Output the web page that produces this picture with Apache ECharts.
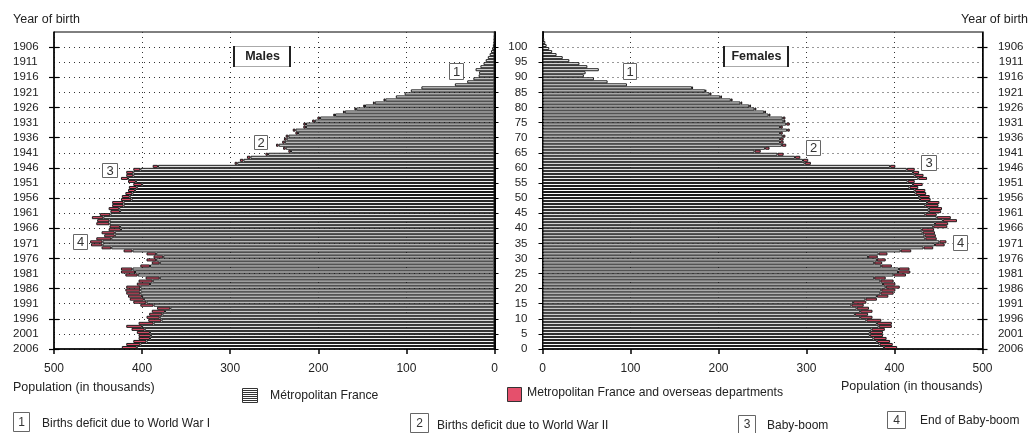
<!DOCTYPE html>
<html><head><meta charset="utf-8">
<script src="https://cdn.jsdelivr.net/npm/echarts@6/dist/echarts.min.js"></script>
<style>html,body{margin:0;padding:0;background:#fff}#c{width:1029px;height:433px}</style>
</head><body><div id="c"></div><script>
// ---- data (thousands), index = age 0..104 ----
const maleMetro = [406,402,395,391,390,391,397,400,387,378,380,377,374,368,387,395,398,400,402,402,
402,391,388,380,405,408,411,391,380,384,376,384,411,435,445,445,435,431,431,424,
425,437,437,444,436,425,426,421,421,412,414,411,408,406,400,407,416,410,410,402,
382,292,285,277,257,231,237,245,238,236,234,223,226,214,214,204,198,181,170,157,
147,136,124,112,102,95,83,45,31,24,18,17.5,21.5,16,12.5,10,7.6,5.5,4,2.7,
1.8,1.2,0.8,0.5,0.3];
const maleTotal = [423,418,410,404,404,406,412,418,404,393,395,392,389,383,402,410,414,416,418,419,
418,406,404,396,419,424,424,402,389,395,387,395,421,446,458,459,452,443,446,438,
437,452,451,457,448,436,438,434,434,424,423,419,416,415,410,416,424,418,418,410,
388,295,289,281,260,234,240,248,241,239,237,226,229,217,217,207,201,183,172,159,
149,138,126,112,102,95,83,45,31,24,18,17.5,21.5,16,12.5,10,7.6,5.5,4,2.7,
1.8,1.2,0.8,0.5,0.3];
const femaleMetro = [388,383,380,376,372,372,374,382,380,368,361,355,361,357,351,353,367,380,384,385,
390,387,384,377,399,404,405,385,377,380,370,382,407,433,446,451,435,434,432,431,
444,446,455,448,435,439,439,435,437,429,428,424,423,417,421,415,427,423,421,414,
395,298,296,287,267,241,253,272,270,270,273,270,278,270,277,274,273,257,252,241,
235,225,214,202,190,185,170,96,74,58.5,47,49,64,51,42,30.5,23,16,11,7.7,
4.7,3.2,2.0,0.9,0.4];
const femaleTotal = [403,398,395,391,387,387,389,397,397,385,375,370,375,371,365,368,380,393,399,401,
406,401,399,390,413,418,417,397,386,390,381,392,419,444,457,459,448,447,446,445,
460,461,471,464,448,453,454,450,451,441,440,436,435,427,432,423,437,433,428,423,
401,305,302,293,274,248,258,277,274,274,276,273,281,273,281,276,276,259,254,243,
237,227,216,204,192,186,171,96,74,58.5,47,49,64,51,42,30.5,23,16,11,7.7,
4.7,3.2,2.0,0.9,0.4];
const ageLabels = [0,5,10,15,20,25,30,35,40,45,50,55,60,65,70,75,80,85,90,95,100];
const yearLabels = ['2006','2001','1996','1991','1986','1981','1976','1971','1966','1961','1956',
  '1951','1946','1941','1936','1931','1926','1921','1916','1911','1906'];
const yearTicks = [0,10,20,30,40,50,60,70,80,90,100];
const popTicks = [0,100,200,300,400,500];

// ---- build ----
const ages = []; for (let i = 0; i < maleMetro.length; i++) ages.push(String(i));
const diff = (t, m) => t.map((v, i) => (v - m[i] > 0.05 ? +(v - m[i]).toFixed(2) : null));
const FONT = '"Liberation Sans", Arial, Helvetica, sans-serif';
const RED = '#e5506c';
const dotted = { show: true, lineStyle: { color: '#333', width: 1, type: [1, 4] } };
const yMax = 105;

function valY(grid, pos, extra) {
  return Object.assign({
    type: 'value', gridIndex: grid, position: pos, min: 0, max: yMax, interval: 5,
    axisLine: { show: true, onZero: false, lineStyle: { color: '#000', width: 1.5 } },
    axisTick: { show: false }, axisLabel: { show: false }, splitLine: { show: false }
  }, extra);
}
const labelStyle = { fontFamily: FONT, fontSize: 11.5, color: '#222' };
const barBorder = { borderColor: '#1a1a1a', borderWidth: 1 };

const option = {
  animation: false,
  backgroundColor: '#fff',
  grid: [
    { left: 54, right: 534.5, top: 32, bottom: 84, show: true, borderColor: '#000', borderWidth: 1, containLabel: false },
    { left: 542.5, right: 46.5, top: 32, bottom: 84, show: true, borderColor: '#000', borderWidth: 1, containLabel: false }
  ],
  xAxis: [0, 1].map(g => ({
    type: 'value', gridIndex: g, inverse: g === 0, min: 0, max: 500, interval: 100,
    axisLine: { show: true, onZero: false, lineStyle: { color: '#000', width: 1.5 } },
    axisTick: { show: true, length: 5, lineStyle: { color: '#000', width: 1.5 }, customValues: popTicks },
    axisLabel: { fontFamily: FONT, fontSize: 12, color: '#222', margin: 14, customValues: popTicks },
    splitLine: dotted
  })),
  yAxis: [
    // left panel
    { type: 'category', gridIndex: 0, data: ages, show: false, boundaryGap: true },
    valY(0, 'right', {
      axisLine: { show: true, onZero: false, lineStyle: { color: '#000', width: 2 } },
      axisTick: { show: true, length: 4, lineStyle: { color: '#000' }, customValues: ageLabels },
      axisLabel: Object.assign({ show: true, align: 'right', margin: 33, customValues: ageLabels }, labelStyle),
      splitLine: dotted
    }),
    valY(0, 'left', {
      axisTick: { show: true, length: 5, lineStyle: { color: '#000', width: 1.2 }, customValues: yearTicks },
      axisLabel: Object.assign({ show: true, align: 'left', margin: 41, customValues: ageLabels,
        formatter: v => yearLabels[ageLabels.indexOf(v)] }, labelStyle)
    }),
    valY(0, 'left', {
      axisLine: { show: false },
      axisTick: { show: true, inside: true, length: 5, lineStyle: { color: '#000', width: 1.2 }, customValues: yearTicks }
    }),
    // right panel
    { type: 'category', gridIndex: 1, data: ages, show: false, boundaryGap: true },
    valY(1, 'left', {
      axisLine: { show: true, onZero: false, lineStyle: { color: '#000', width: 2 } },
      axisTick: { show: true, length: 4, lineStyle: { color: '#000' }, customValues: ageLabels },
      splitLine: dotted
    }),
    valY(1, 'right', {
      axisTick: { show: true, length: 5, lineStyle: { color: '#000', width: 1.2 }, customValues: yearTicks },
      axisLabel: Object.assign({ show: true, align: 'right', margin: 41, customValues: ageLabels,
        formatter: v => yearLabels[ageLabels.indexOf(v)] }, labelStyle)
    }),
    valY(1, 'right', {
      axisLine: { show: false },
      axisTick: { show: true, inside: true, length: 5, lineStyle: { color: '#000', width: 1.2 }, customValues: yearTicks }
    })
  ],
  series: [
    { name: 'Métropolitan France', type: 'bar', xAxisIndex: 0, yAxisIndex: 0, stack: 'm', data: maleMetro,
      barCategoryGap: '0%', itemStyle: Object.assign({ color: '#fff' }, barBorder) },
    { name: 'Metropolitan France and overseas departments', type: 'bar', xAxisIndex: 0, yAxisIndex: 0, stack: 'm',
      data: diff(maleTotal, maleMetro), barCategoryGap: '0%', itemStyle: Object.assign({ color: RED }, barBorder) },
    { name: 'Métropolitan France', type: 'bar', xAxisIndex: 1, yAxisIndex: 4, stack: 'f', data: femaleMetro,
      barCategoryGap: '0%', itemStyle: Object.assign({ color: '#fff' }, barBorder) },
    { name: 'Metropolitan France and overseas departments', type: 'bar', xAxisIndex: 1, yAxisIndex: 4, stack: 'f',
      data: diff(femaleTotal, femaleMetro), barCategoryGap: '0%', itemStyle: Object.assign({ color: RED }, barBorder) }
  ],
  graphic: []
};

// ---- annotations / texts ----
const G = option.graphic;
function txt(x, y, s, opt) {
  G.push({ type: 'text', z: 100, style: Object.assign({ x: x, y: y, text: s, fill: '#222',
    font: '12px ' + FONT, align: 'left', verticalAlign: 'middle' }, opt || {}) });
}
function box(x1, y1, x2, y2, label, fs) {
  G.push({ type: 'rect', z: 99, shape: { x: x1 + 0.5, y: y1 + 0.5, width: x2 - x1, height: y2 - y1 },
    style: { fill: '#fff', stroke: '#666', lineWidth: 1 } });
  txt((x1 + x2) / 2 + 0.5, (y1 + y2) / 2 + 1, label, { align: 'center', font: (fs || 13) + 'px ' + FONT, fill: '#333' });
}
function titleBox(x1, y1, x2, y2, label) {
  G.push({ type: 'rect', z: 99, shape: { x: x1 + 0.5, y: y1 + 0.5, width: x2 - x1, height: y2 - y1 },
    style: { fill: '#fff', stroke: '#aaa', lineWidth: 1 } });
  G.push({ type: 'line', z: 100, shape: { x1: x1 + 1, y1: y1, x2: x1 + 1, y2: y2 + 1 }, style: { stroke: '#222', lineWidth: 2 } });
  G.push({ type: 'line', z: 100, shape: { x1: x2, y1: y1, x2: x2, y2: y2 + 1 }, style: { stroke: '#222', lineWidth: 2 } });
  txt((x1 + x2) / 2 + 1, (y1 + y2) / 2 + 1, label, { align: 'center', font: 'bold 12.5px ' + FONT });
}
txt(13, 20, 'Year of birth', { font: '12.5px ' + FONT });
txt(1028, 20, 'Year of birth', { font: '12.5px ' + FONT, align: 'right' });
txt(13, 388, 'Population (in thousands)', { font: '12.5px ' + FONT });
txt(841, 387, 'Population (in thousands)', { font: '12.5px ' + FONT });

titleBox(233, 46, 290, 66, 'Males');
titleBox(723, 46, 788, 66, 'Females');
box(449, 63, 463, 79, '1'); box(623, 63, 636, 79, '1');
box(254, 135, 267, 149, '2'); box(806, 140, 820, 155, '2');
box(102, 163, 117, 177, '3'); box(921, 155, 936, 170, '3');
box(73, 234, 87, 249, '4'); box(953, 235, 967, 250, '4');

// legend
G.push({ type: 'rect', z: 99, shape: { x: 242.5, y: 388.5, width: 15, height: 14 }, style: { fill: '#fff', stroke: '#333', lineWidth: 1 } });
for (let k = 1; k < 7; k++) {
  G.push({ type: 'line', z: 100, shape: { x1: 243, y1: 388.5 + k * 2, x2: 257, y2: 388.5 + k * 2 }, style: { stroke: '#333', lineWidth: 1 } });
}
txt(270, 395.5, 'Métropolitan France', { font: '12.2px ' + FONT });
G.push({ type: 'rect', z: 99, shape: { x: 507.5, y: 387.5, width: 14, height: 14 }, style: { fill: RED, stroke: '#333', lineWidth: 1 } });
txt(527, 393, 'Metropolitan France and overseas departments', { font: '12.2px ' + FONT });

// notes
box(13, 412, 29, 431, '1', 12); txt(42, 423.5, 'Births deficit due to World War I');
box(410, 413, 428, 432, '2', 12); txt(437, 426, 'Births deficit due to World War II');
box(738, 415, 755, 433, '3', 12); txt(767, 426, 'Baby-boom');
box(887, 411, 905, 428, '4', 12); txt(920, 421, 'End of Baby-boom');

const chart = echarts.init(document.getElementById('c'), null, { renderer: 'canvas' });
chart.setOption(option);
</script></body></html>
